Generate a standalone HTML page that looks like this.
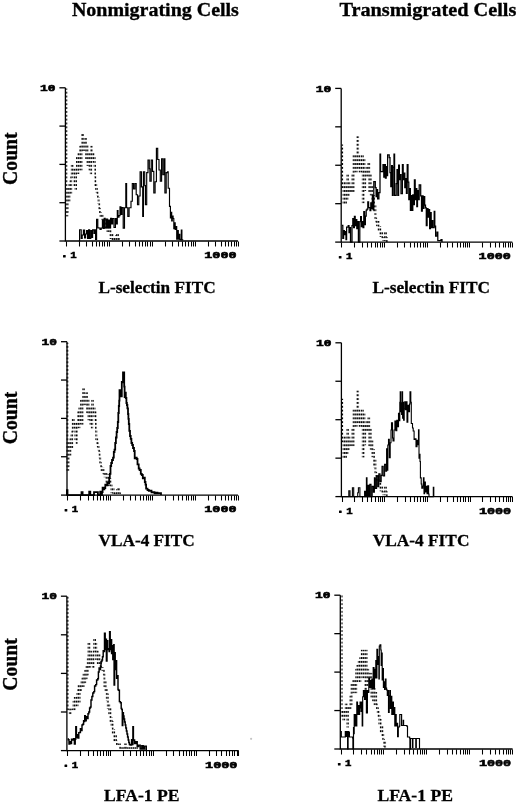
<!DOCTYPE html>
<html><head><meta charset="utf-8"><style>
html,body{margin:0;padding:0;background:#fff;width:520px;height:806px;overflow:hidden}
svg{display:block;will-change:transform}
.ax{fill:none;stroke:#000;stroke-width:1.3}
.tk{fill:none;stroke:#000;stroke-width:1.05}
.num{font-family:"Liberation Mono",monospace;font-weight:bold;font-size:9.2px;fill:#000;stroke:#000;stroke-width:0.55}
.ttl{font-family:"Liberation Serif",serif;font-weight:bold;font-size:19.7px;fill:#000;stroke:#000;stroke-width:0.35}
.lbl{font-family:"Liberation Serif",serif;font-weight:bold;font-size:17.6px;fill:#000;stroke:#000;stroke-width:0.3}
.cnt{font-family:"Liberation Serif",serif;font-weight:bold;font-size:20px;fill:#000;stroke:#000;stroke-width:0.35}
.sol{fill:none;stroke:#000;stroke-width:1.15;stroke-linejoin:miter}
.dot{fill:none;stroke-width:1.9}
</style></head><body>
<svg width="520" height="806" viewBox="0 0 520 806">

<circle cx="251.1" cy="738.8" r="1.1" fill="#c4c4c4"/>
<text x="71.9" y="16.4" class="ttl" textLength="167" lengthAdjust="spacingAndGlyphs">Nonmigrating Cells</text>
<text x="339.4" y="16.4" class="ttl" textLength="177" lengthAdjust="spacingAndGlyphs">Transmigrated Cells</text>
<text x="98.4" y="292.9" class="lbl" textLength="117.3" lengthAdjust="spacingAndGlyphs">L-selectin FITC</text>
<text x="372.4" y="292.9" class="lbl" textLength="117.6" lengthAdjust="spacingAndGlyphs">L-selectin FITC</text>
<text x="98.5" y="545.9" class="lbl" textLength="96.3" lengthAdjust="spacingAndGlyphs">VLA-4 FITC</text>
<text x="372.8" y="546.1" class="lbl" textLength="96.6" lengthAdjust="spacingAndGlyphs">VLA-4 FITC</text>
<text x="104" y="800.9" class="lbl" textLength="75.5" lengthAdjust="spacingAndGlyphs">LFA-1 PE</text>
<text x="377.4" y="800.9" class="lbl" textLength="75.5" lengthAdjust="spacingAndGlyphs">LFA-1 PE</text>
<text transform="translate(16.5 184.9) rotate(-90)" class="cnt" textLength="52.5" lengthAdjust="spacingAndGlyphs">Count</text>
<text transform="translate(16.5 444.3) rotate(-90)" class="cnt" textLength="52.6" lengthAdjust="spacingAndGlyphs">Count</text>
<text transform="translate(16.5 690.8) rotate(-90)" class="cnt" textLength="52.6" lengthAdjust="spacingAndGlyphs">Count</text>

<path d="M65.40 87.80V241.00H238.00" class="ax"/>
<path d="M59.40 87.80H65.40" class="ax"/>
<path d="M59.40 126.10H65.40" class="ax"/>
<path d="M59.40 164.40H65.40" class="ax"/>
<path d="M59.40 202.70H65.40" class="ax"/>
<path d="M59.40 241.00H65.40" class="ax"/>
<path d="M66.50 241.50v5M79.50 241.50v5M86.50 241.50v5M92.50 241.50v5M96.50 241.50v5M99.50 241.50v5M102.50 241.50v5M104.50 241.50v5M107.50 241.50v5M109.50 241.50v5M122.50 241.50v5M129.50 241.50v5M135.50 241.50v5M139.50 241.50v5M142.50 241.50v5M145.50 241.50v5M147.50 241.50v5M150.50 241.50v5M152.50 241.50v5M165.50 241.50v5M172.50 241.50v5M178.50 241.50v5M182.50 241.50v5M185.50 241.50v5M188.50 241.50v5M191.50 241.50v5M193.50 241.50v5M195.50 241.50v5M208.50 241.50v5M215.50 241.50v5M221.50 241.50v5M225.50 241.50v5M228.50 241.50v5M231.50 241.50v5M234.50 241.50v5M236.50 241.50v5M238.50 241.50v5" class="tk"/>
<text x="40.00" y="90.90" class="num" textLength="15.5" lengthAdjust="spacingAndGlyphs">10</text>
<rect x="63.00" y="254.90" width="2.7" height="2.5" rx="0.5"/>
<text x="70.20" y="258.10" class="num" textLength="6.4" lengthAdjust="spacingAndGlyphs">1</text>
<text x="204.30" y="258.00" class="num" textLength="32.3" lengthAdjust="spacingAndGlyphs">1000</text>
<pattern id="dp0" patternUnits="userSpaceOnUse" x="0" y="-0.70" width="1.9" height="3.85"><rect width="1.45" height="1.95" fill="#000"/></pattern>
<path d="M66.4,88.5H66.4V215.5H67.3V211.8H67.6V200.7H68.2V188.7H68.8V200.7H69.4V185.0H70.0V188.7H70.5V181.1H70.9V192.9H71.2V177.2H71.8V165.7H72.6V173.4H73.4V169.5H74.4V185.0H75.2V177.2H75.6V188.7H76.0V169.0H76.2V173.0H77.0V158.0H77.6V173.0H78.4V154.0H79.2V169.0H80.0V146.6H80.8V169.5H81.5V146.0H82.2V135.0H83.0V150.0H84.0V143.0H85.3V139.0H86.0V158.0H86.6V146.0H87.5V165.0H88.5V154.0H89.5V169.5H90.2V155.0H90.8V173.4H91.2V146.6H91.8V158.0H92.5V154.0H93.5V161.8H94.3V158.0H94.6V166.0H95.0V176.0H95.3V185.0H96.2V189.0H96.8V192.0H97.5V195.0H98.0V198.0H98.6V203.0H99.2V209.0H100.0V213.0H100.6V216.0H101.6V214.0H102.5V219.0H103.5V222.0H104.5V219.0H105.5V228.0H106.5V221.0H107.5V231.0H108.5V225.0H109.5V231.0H110.5V238.0H111.5V234.0H112.5V239.0H114.0V240.0H116.0V236.0H117.0V234.0H118.0V239.0H119.0V241.0" class="dot" stroke="url(#dp0)"/>
<path d="M78.8,241.0H79.6V229.7H81.2V238.5H82.2V235.0H83.4V230.0H84.6V238.0H85.6V234.0H86.6V230.5H87.6V238.5H88.6V229.8H89.6V238.5H90.8V230.5H91.6V237.5H92.6V229.8H94.0V233.5H95.0V229.8H95.6V239.5H96.6V219.2H97.8V227.8H98.8V228.0H100.0V229.5H101.2V228.0H102.4V220.1H103.2V228.5H104.2V218.2H105.2V227.8H106.6V219.0H107.6V227.8H108.6V220.1H109.6V227.8H110.6V218.2H111.6V223.9H112.6V218.5H114.0V227.5H115.4V218.5H116.4V223.9H117.3V210.5H118.0V217.2H119.0V215.6H120.0V206.9H120.9V214.4H121.9V207.6H123.2V228.1H124.5V207.7H125.8V183.5H126.6V207.7H127.8V216.4H129.1V207.7H131.0V201.2H132.3V183.5H133.6V189.0H134.9V183.5H136.2V194.7H137.5V204.7H138.8V196.0H140.1V171.7H141.4V186.9H142.7V216.4H143.4V171.7H144.7V185.6H145.4V204.7H146.7V172.6H148.0V160.0H149.3V168.7H149.9V181.2H151.2V160.0H152.5V171.3H153.8V193.0H155.1V181.7H156.4V148.3H157.7V159.5H159.0V170.0H160.3V181.2H161.6V158.7H162.9V174.7H164.2V158.7H164.9V193.0H166.2V172.6H167.5V171.7H168.2V188.2H169.5V206.4H170.4V218.0H171.0V212.2H171.7V220.9H172.3V216.0H173.1V218.5H173.8V228.6H174.5V222.8H175.2V229.5H176.0V226.6H176.7V239.2H177.5V230.5H178.3V239.2H179.0V234.3H179.8V239.3H180.6V239.6H181.3V230.0H181.9V239.8H182.7V240.1" class="sol" style="stroke-width:1.15"/>
<path d="M341.20 88.40V242.10H512.30" class="ax"/>
<path d="M335.20 88.40H341.20" class="ax"/>
<path d="M335.20 126.83H341.20" class="ax"/>
<path d="M335.20 165.25H341.20" class="ax"/>
<path d="M335.20 203.68H341.20" class="ax"/>
<path d="M335.20 242.10H341.20" class="ax"/>
<path d="M341.50 242.60v5M354.50 242.60v5M362.50 242.60v5M367.50 242.60v5M371.50 242.60v5M375.50 242.60v5M377.50 242.60v5M380.50 242.60v5M382.50 242.60v5M384.50 242.60v5M397.50 242.60v5M404.50 242.60v5M410.50 242.60v5M414.50 242.60v5M417.50 242.60v5M420.50 242.60v5M423.50 242.60v5M425.50 242.60v5M427.50 242.60v5M440.50 242.60v5M447.50 242.60v5M452.50 242.60v5M457.50 242.60v5M460.50 242.60v5M463.50 242.60v5M465.50 242.60v5M467.50 242.60v5M469.50 242.60v5M482.50 242.60v5M490.50 242.60v5M495.50 242.60v5M499.50 242.60v5M503.50 242.60v5M505.50 242.60v5M508.50 242.60v5M510.50 242.60v5M512.50 242.60v5" class="tk"/>
<text x="315.80" y="91.50" class="num" textLength="15.5" lengthAdjust="spacingAndGlyphs">10</text>
<rect x="338.80" y="256.00" width="2.7" height="2.5" rx="0.5"/>
<text x="346.00" y="259.20" class="num" textLength="6.4" lengthAdjust="spacingAndGlyphs">1</text>
<text x="478.60" y="259.10" class="num" textLength="32.3" lengthAdjust="spacingAndGlyphs">1000</text>
<pattern id="dp1" patternUnits="userSpaceOnUse" x="0" y="1.35" width="1.9" height="3.85"><rect width="1.45" height="1.95" fill="#000"/></pattern>
<path d="M342.2,144.4H342.2V187.0H342.9V187.0H343.6V203.0H344.4V183.0H345.2V203.0H346.0V187.0H346.8V199.0H347.4V175.3H348.0V195.0H348.6V183.0H349.4V191.0H350.0V187.0H350.8V191.0H351.6V187.0H352.4V175.0H353.1V191.0H353.6V156.0H354.3V171.5H355.1V156.0H355.9V171.5H356.6V160.0H357.4V137.2H358.1V167.7H358.8V156.0H359.6V171.5H360.4V159.8H361.2V171.5H362.0V156.0H362.8V202.3H363.6V160.0H364.4V190.0H365.2V171.5H366.0V175.7H366.8V167.7H367.6V175.7H368.4V164.0H369.2V191.0H370.0V175.0H370.8V194.6H371.6V187.0H372.4V202.0H373.2V196.0H374.0V212.0H374.8V206.0H375.4V218.7H376.2V221.5H377.0V225.4H377.8V222.0H378.6V230.2H379.4V227.0H380.3V236.0H381.2V232.6H382.2V237.9H383.5V240.0H385.0V233.0H386.0V238.0H386.8V242.1" class="dot" stroke="url(#dp1)"/>
<path d="M342.0,225.4H342.8V238.3H343.6V230.5H344.4V234.5H345.2V231.5H346.0V239.5H346.6V227.0H348.2V225.5H349.0V232.5H349.8V227.5H350.5V242.1H352.0V225.5H352.8V218.5H353.6V227.5H354.4V216.3H355.2V225.5H356.0V219.5H356.8V228.5H357.6V221.5H358.4V242.1H359.8V221.5H360.6V216.5H361.4V226.5H362.2V221.5H363.0V227.5H363.8V211.5H364.6V224.5H365.4V216.0H366.2V210.0H367.0V209.0H367.8V201.8H368.6V207.5H370.0V210.5H370.8V202.8H371.6V208.5H372.4V195.5H373.1V209.5H373.8V181.5H375.3V187.5H376.1V196.5H376.9V189.5H377.6V198.9H378.9V192.5H380.0V154.0H380.6V171.5H382.2V171.5H383.0V164.5H383.8V177.0H384.6V164.5H385.4V178.0H386.2V166.5H387.0V175.5H387.6V154.9H389.2V157.5H390.0V172.7H390.8V186.5H391.6V165.5H392.4V195.3H393.2V167.0H394.0V154.0H394.6V195.3H396.2V183.5H397.0V169.5H397.8V195.3H398.6V165.0H399.4V179.5H400.2V174.5H401.0V193.5H402.4V164.5H403.2V179.5H404.0V173.2H404.8V187.5H405.6V178.5H406.4V193.3H407.2V164.5H408.0V182.0H408.8V199.5H409.6V188.5H410.4V210.3H411.2V195.5H412.0V210.3H412.8V194.9H413.6V204.5H414.4V179.9H415.2V199.5H416.0V188.5H416.8V206.5H417.5V190.5H418.6V199.5H419.2V184.8H420.7V195.9H421.5V211.2H422.3V195.9H423.1V208.3H423.9V196.5H424.7V205.0H425.5V207.9H426.3V225.5H427.1V208.5H428.0V217.0H428.8V209.5H429.6V228.5H430.4V212.5H431.2V227.5H432.0V220.5H432.8V227.5H434.2V211.3H434.8V226.0H435.6V236.2H437.0V232.0H437.8V240.5H440.0V240.5H441.0V239.5H442.0V242.1" class="sol" style="stroke-width:1.25"/>
<path d="M67.00 341.70V495.10H238.00" class="ax"/>
<path d="M61.00 341.70H67.00" class="ax"/>
<path d="M61.00 380.05H67.00" class="ax"/>
<path d="M61.00 418.40H67.00" class="ax"/>
<path d="M61.00 456.75H67.00" class="ax"/>
<path d="M61.00 495.10H67.00" class="ax"/>
<path d="M67.50 495.60v5M80.50 495.60v5M88.50 495.60v5M93.50 495.60v5M97.50 495.60v5M100.50 495.60v5M103.50 495.60v5M106.50 495.60v5M108.50 495.60v5M110.50 495.60v5M123.50 495.60v5M130.50 495.60v5M135.50 495.60v5M140.50 495.60v5M143.50 495.60v5M146.50 495.60v5M148.50 495.60v5M150.50 495.60v5M152.50 495.60v5M165.50 495.60v5M173.50 495.60v5M178.50 495.60v5M182.50 495.60v5M186.50 495.60v5M188.50 495.60v5M191.50 495.60v5M193.50 495.60v5M195.50 495.60v5M208.50 495.60v5M215.50 495.60v5M221.50 495.60v5M225.50 495.60v5M228.50 495.60v5M231.50 495.60v5M234.50 495.60v5M236.50 495.60v5M238.50 495.60v5" class="tk"/>
<text x="41.60" y="344.80" class="num" textLength="15.5" lengthAdjust="spacingAndGlyphs">10</text>
<rect x="64.60" y="509.00" width="2.7" height="2.5" rx="0.5"/>
<text x="71.80" y="512.20" class="num" textLength="6.4" lengthAdjust="spacingAndGlyphs">1</text>
<text x="204.30" y="512.10" class="num" textLength="32.3" lengthAdjust="spacingAndGlyphs">1000</text>
<pattern id="dp2" patternUnits="userSpaceOnUse" x="0" y="-0.60" width="1.9" height="3.85"><rect width="1.45" height="1.95" fill="#000"/></pattern>
<path d="M67.4,342.7H67.4V469.7H68.3V466.0H68.6V454.9H69.2V442.9H69.8V454.9H70.4V439.2H71.0V442.9H71.5V435.3H71.9V447.1H72.2V431.4H72.8V419.9H73.6V427.6H74.4V423.7H75.4V439.2H76.2V431.4H76.6V442.9H77.0V423.2H77.2V427.2H78.0V412.2H78.6V427.2H79.4V408.2H80.2V423.2H81.0V400.8H81.8V423.7H82.5V400.2H83.2V389.2H84.0V404.2H85.0V397.2H86.3V393.2H87.0V412.2H87.6V400.2H88.5V419.2H89.5V408.2H90.5V423.7H91.2V409.2H91.8V427.6H92.2V400.8H92.8V412.2H93.5V408.2H94.5V416.0H95.3V412.2H95.6V420.2H96.0V430.2H96.3V439.2H97.2V443.2H97.8V446.2H98.5V449.2H99.0V452.2H99.6V457.2H100.2V463.2H101.0V467.2H101.6V470.2H102.6V468.2H103.5V473.2H104.5V476.2H105.5V473.2H106.5V482.2H107.5V475.2H108.5V485.2H109.5V479.2H110.5V485.2H111.5V492.2H112.5V488.2H113.5V493.2H115.0V494.2H117.0V490.2H118.0V488.2H119.0V493.2H120.0V495.1" class="dot" stroke="url(#dp2)"/>
<path d="M66.7,495.1H66.9V490.2H67.5V495.1H81.3V495.1H81.5V492.2H82.6V495.1H89.0V495.1H89.2V491.7H90.3V495.1H93.8V495.1H94.0V492.1H97.7V492.1H97.9V495.1H100.0V495.1H100.2V491.7H101.5V495.1H102.0V492.0H102.6V487.7H103.5V489.3H104.4V488.0H105.3V484.7H106.5V485.3H107.3V482.7H108.3V483.3H109.2V478.0H109.8V473.8H110.5V466.0H111.2V463.0H112.0V460.0H113.0V457.7H113.8V452.0H114.5V449.6H115.2V443.0H115.9V437.5H116.6V432.0H117.2V428.0H117.8V422.0H118.3V413.0H118.8V406.0H119.2V400.6H119.5V390.2H120.7V390.2H121.0V396.3H121.8V382.0H122.6V382.3H123.0V372.4H123.8V372.4H124.2V386.6H124.6V397.0H125.2V392.7H125.8V398.0H126.4V403.0H126.9V405.0H127.4V408.3H128.0V414.0H128.4V418.8H128.8V424.0H129.3V430.8H130.0V436.0H130.7V438.8H131.4V443.0H132.2V445.0H133.0V448.0H134.0V451.0H134.7V458.3H135.8V457.7H136.7V459.0H137.5V464.4H138.7V468.5H139.6V470.0H140.8V473.8H141.8V475.0H142.8V478.3H143.8V477.7H144.8V482.0H145.5V484.6H146.1V488.6H147.5V490.0H148.8V490.8H150.2V490.7H151.5V492.3H153.0V492.2H154.5V493.3H156.0V492.7H157.5V493.3H159.0V493.2H161.0V495.1" class="sol" style="stroke-width:1.8"/>
<path d="M341.40 342.80V496.60H512.60" class="ax"/>
<path d="M335.40 342.80H341.40" class="ax"/>
<path d="M335.40 381.25H341.40" class="ax"/>
<path d="M335.40 419.70H341.40" class="ax"/>
<path d="M335.40 458.15H341.40" class="ax"/>
<path d="M335.40 496.60H341.40" class="ax"/>
<path d="M342.50 497.10v5M354.50 497.10v5M362.50 497.10v5M367.50 497.10v5M371.50 497.10v5M375.50 497.10v5M378.50 497.10v5M380.50 497.10v5M382.50 497.10v5M384.50 497.10v5M397.50 497.10v5M405.50 497.10v5M410.50 497.10v5M414.50 497.10v5M417.50 497.10v5M420.50 497.10v5M423.50 497.10v5M425.50 497.10v5M427.50 497.10v5M440.50 497.10v5M447.50 497.10v5M453.50 497.10v5M457.50 497.10v5M460.50 497.10v5M463.50 497.10v5M465.50 497.10v5M468.50 497.10v5M470.50 497.10v5M482.50 497.10v5M490.50 497.10v5M495.50 497.10v5M499.50 497.10v5M503.50 497.10v5M506.50 497.10v5M508.50 497.10v5M510.50 497.10v5M512.50 497.10v5" class="tk"/>
<text x="316.00" y="345.90" class="num" textLength="15.5" lengthAdjust="spacingAndGlyphs">10</text>
<rect x="339.00" y="510.50" width="2.7" height="2.5" rx="0.5"/>
<text x="346.20" y="513.70" class="num" textLength="6.4" lengthAdjust="spacingAndGlyphs">1</text>
<text x="478.90" y="513.60" class="num" textLength="32.3" lengthAdjust="spacingAndGlyphs">1000</text>
<pattern id="dp3" patternUnits="userSpaceOnUse" x="0" y="1.55" width="1.9" height="3.85"><rect width="1.45" height="1.95" fill="#000"/></pattern>
<path d="M342.2,398.7H342.2V441.3H342.9V441.3H343.6V457.3H344.4V437.3H345.2V457.3H346.0V441.3H346.8V453.3H347.4V429.6H348.0V449.3H348.6V437.3H349.4V445.3H350.0V441.3H350.8V445.3H351.6V441.3H352.4V429.3H353.1V445.3H353.6V410.3H354.3V425.8H355.1V410.3H355.9V425.8H356.6V414.3H357.4V391.5H358.1V422.0H358.8V410.3H359.6V425.8H360.4V414.1H361.2V425.8H362.0V410.3H362.8V456.6H363.6V414.3H364.4V444.3H365.2V425.8H366.0V430.0H366.8V422.0H367.6V430.0H368.4V418.3H369.2V445.3H370.0V429.3H370.8V448.9H371.6V441.3H372.4V456.3H373.2V450.3H374.0V466.3H374.8V460.3H375.4V473.0H376.2V475.8H377.0V479.7H377.8V476.3H378.6V484.5H379.4V481.3H380.3V490.3H381.2V486.9H382.2V492.2H383.5V494.3H385.0V487.3H386.0V492.3H386.8V496.6" class="dot" stroke="url(#dp3)"/>
<path d="M341.5,496.6H348.6V496.6H348.8V490.7H349.8V490.7H350.0V496.6H352.2V496.6H352.4V487.8H353.5V487.8H353.7V496.6H357.5V496.6H357.7V492.7H358.4V487.8H359.5V487.8H359.9V496.6H364.2V496.6H364.6V491.4H365.4V496.6H366.4V477.7H367.0V496.6H368.0V485.4H368.8V496.6H369.8V484.4H371.0V496.6H372.2V486.4H373.4V492.3H374.4V477.7H375.4V488.4H376.6V475.8H377.8V486.6H378.8V473.9H380.0V481.6H381.2V475.4H382.0V466.2H383.2V475.9H384.6V464.2H385.8V471.1H386.6V448.9H387.2V470.2H387.8V445.0H388.5V439.2H389.3V457.6H390.2V442.7H391.0V430.0H391.5V422.9H392.5V438.0H393.0V440.9H394.0V430.0H394.9V421.0H395.9V430.6H396.8V420.4H397.8V426.6H398.5V413.3H399.2V420.6H399.8V402.3H400.2V391.7H400.7V411.6H401.2V402.7H401.6V414.4H402.1V391.7H402.6V418.2H403.2V402.4H403.6V420.2H404.2V409.0H404.8V401.7H405.6V409.6H406.4V401.7H407.0V422.1H407.8V405.4H408.8V411.6H409.5V404.0H410.0V391.7H410.8V402.3H411.3V423.5H412.5V428.0H413.2V431.0H414.1V439.4H415.0V438.9H416.0V446.6H417.0V440.4H418.0V444.6H418.5V429.7H419.0V458.3H419.6V454.2H420.0V461.5H420.4V477.9H421.2V484.0H421.8V488.1H422.8V486.0H423.4V477.8H424.0V493.8H424.6V482.1H425.4V491.9H426.2V486.4H427.0V493.6H427.8V485.9H428.6V494.0H429.0V496.6H432.9V496.6H433.3V487.4H433.8V496.6" class="sol" style="stroke-width:1.1"/>
<path d="M66.90 596.20V750.60H238.80" class="ax"/>
<path d="M60.90 596.20H66.90" class="ax"/>
<path d="M60.90 634.80H66.90" class="ax"/>
<path d="M60.90 673.40H66.90" class="ax"/>
<path d="M60.90 712.00H66.90" class="ax"/>
<path d="M60.90 750.60H66.90" class="ax"/>
<path d="M67.50 751.10v5M80.50 751.10v5M88.50 751.10v5M93.50 751.10v5M97.50 751.10v5M100.50 751.10v5M103.50 751.10v5M106.50 751.10v5M108.50 751.10v5M110.50 751.10v5M123.50 751.10v5M130.50 751.10v5M136.50 751.10v5M140.50 751.10v5M143.50 751.10v5M146.50 751.10v5M149.50 751.10v5M151.50 751.10v5M153.50 751.10v5M166.50 751.10v5M173.50 751.10v5M179.50 751.10v5M183.50 751.10v5M186.50 751.10v5M189.50 751.10v5M191.50 751.10v5M194.50 751.10v5M196.50 751.10v5M209.50 751.10v5M216.50 751.10v5M221.50 751.10v5M226.50 751.10v5M229.50 751.10v5M232.50 751.10v5M234.50 751.10v5M237.50 751.10v5M238.50 751.10v5" class="tk"/>
<text x="41.50" y="599.30" class="num" textLength="15.5" lengthAdjust="spacingAndGlyphs">10</text>
<rect x="64.50" y="764.50" width="2.7" height="2.5" rx="0.5"/>
<text x="71.70" y="767.70" class="num" textLength="6.4" lengthAdjust="spacingAndGlyphs">1</text>
<text x="205.10" y="767.60" class="num" textLength="32.3" lengthAdjust="spacingAndGlyphs">1000</text>
<pattern id="dp4" patternUnits="userSpaceOnUse" x="0" y="-0.05" width="1.9" height="3.85"><rect width="1.45" height="1.95" fill="#000"/></pattern>
<path d="M67.6,596.5H67.6V709.4H69.5V709.4H69.8V713.3H70.5V709.4H73.2V709.4H73.6V701.7H74.2V709.4H74.8V697.9H75.6V705.6H76.4V697.9H77.2V705.6H77.5V694.0H78.0V690.2H78.6V685.8H79.2V701.7H79.6V685.8H80.5V690.2H81.0V685.8H81.6V682.0H82.4V678.4H83.0V686.0H83.6V674.5H84.5V682.2H85.2V670.7H86.0V678.4H86.6V666.8H87.3V674.5H87.8V659.1H88.5V643.8H89.4V666.8H90.2V651.4H91.0V659.1H91.6V663.0H92.2V655.3H93.0V666.8H93.6V651.4H94.3V639.9H95.0V651.4H95.6V643.8H96.2V659.1H96.8V651.4H97.2V651.4H97.8V663.0H98.4V655.0H99.5V663.0H101.0V668.0H102.5V670.0H103.9V674.5H104.4V686.0H105.0V682.0H105.6V691.6H106.3V688.7H106.8V700.0H107.3V694.5H107.8V708.0H108.6V704.0H109.2V714.7H109.8V709.0H110.5V722.0H111.0V718.5H111.6V726.2H112.2V722.0H112.8V734.0H113.5V730.0H114.2V740.7H115.0V736.0H116.0V741.6H117.0V744.5H119.0V744.5H120.0V748.3H125.0V744.5H126.0V748.3H136.7V748.3H137.0V750.6" class="dot" stroke="url(#dp4)"/>
<path d="M67.6,739.0H68.3V739.7H69.0V743.9H69.8V741.6H70.7V743.4H71.5V739.3H72.5V739.9H73.6V738.6H74.4V743.9H75.2V739.0H75.8V726.8H76.4V737.4H77.2V734.6H78.0V738.1H78.8V732.6H79.6V732.4H80.4V728.6H81.2V730.4H82.0V725.0H82.8V724.3H83.6V720.6H84.2V721.4H84.7V715.8H85.4V720.8H86.2V716.6H87.0V718.4H88.0V713.7H88.8V712.0H89.6V708.0H90.4V707.0H91.0V700.0H91.9V696.4H92.8V693.0H93.8V691.6H94.6V686.0H95.7V684.6H96.6V680.0H97.7V678.8H98.4V672.0H99.1V667.9H100.0V669.4H100.5V666.0H101.0V661.5H101.9V660.0H102.5V656.7H103.2V650.6H104.0V651.4H104.5V633.3H105.2V649.4H105.8V639.1H106.4V660.9H107.0V640.6H107.7V649.4H108.4V648.6H109.1V651.4H109.6V631.8H110.2V649.4H110.8V639.6H111.6V653.4H112.2V645.6H112.8V659.4H113.2V650.0H113.8V644.8H114.1V685.0H114.6V652.6H115.2V669.4H115.9V660.6H116.6V678.2H117.3V675.6H118.0V689.4H118.5V690.3H119.4V701.6H120.4V702.8H121.2V708.4H121.8V709.6H122.3V725.6H122.8V712.6H123.4V716.0H124.0V719.0H124.6V722.0H125.2V725.0H125.8V728.0H126.4V731.0H127.0V734.0H127.6V737.0H128.2V740.0H128.8V742.5H129.4V744.5H130.2V744.9H131.0V744.9H131.6V739.6H132.4V744.4H132.9V726.8H133.4V740.0H134.6V743.4H136.0V741.6H137.2V746.4H138.6V745.1H140.2V748.9H141.8V745.6H143.2V748.9H144.6V746.1H146.3V750.6" class="sol" style="stroke-width:1.45"/>
<path d="M340.30 595.20V749.00H512.60" class="ax"/>
<path d="M334.30 595.20H340.30" class="ax"/>
<path d="M334.30 633.65H340.30" class="ax"/>
<path d="M334.30 672.10H340.30" class="ax"/>
<path d="M334.30 710.55H340.30" class="ax"/>
<path d="M334.30 749.00H340.30" class="ax"/>
<path d="M341.50 749.50v5M353.50 749.50v5M361.50 749.50v5M366.50 749.50v5M371.50 749.50v5M374.50 749.50v5M377.50 749.50v5M379.50 749.50v5M381.50 749.50v5M383.50 749.50v5M396.50 749.50v5M404.50 749.50v5M409.50 749.50v5M413.50 749.50v5M417.50 749.50v5M420.50 749.50v5M422.50 749.50v5M424.50 749.50v5M426.50 749.50v5M439.50 749.50v5M447.50 749.50v5M452.50 749.50v5M456.50 749.50v5M460.50 749.50v5M463.50 749.50v5M465.50 749.50v5M467.50 749.50v5M469.50 749.50v5M482.50 749.50v5M490.50 749.50v5M495.50 749.50v5M499.50 749.50v5M503.50 749.50v5M506.50 749.50v5M508.50 749.50v5M510.50 749.50v5M512.50 749.50v5" class="tk"/>
<text x="314.90" y="598.30" class="num" textLength="15.5" lengthAdjust="spacingAndGlyphs">10</text>
<rect x="337.90" y="762.90" width="2.7" height="2.5" rx="0.5"/>
<text x="345.10" y="766.10" class="num" textLength="6.4" lengthAdjust="spacingAndGlyphs">1</text>
<text x="478.90" y="766.00" class="num" textLength="32.3" lengthAdjust="spacingAndGlyphs">1000</text>
<pattern id="dp5" patternUnits="userSpaceOnUse" x="0" y="2.55" width="1.9" height="3.85"><rect width="1.45" height="1.95" fill="#000"/></pattern>
<path d="M341.6,595.0H341.6V716.0H342.5V712.0H343.4V719.5H344.3V712.0H345.0V716.0H345.8V704.5H346.6V709.0H347.4V726.5H348.0V708.0H349.2V709.0H349.8V708.0H350.4V696.4H351.0V704.2H351.6V685.0H352.5V692.4H353.3V681.0H354.3V692.4H355.2V685.0H355.8V692.4H356.2V669.8H356.6V681.3H357.3V666.0H358.0V677.5H358.8V662.0H359.6V681.3H360.3V658.3H361.0V673.7H361.8V650.6H362.6V677.5H363.4V650.6H364.0V669.8H364.8V662.0H365.4V689.0H366.0V650.6H366.6V685.2H367.4V669.8H368.2V681.3H369.0V673.7H369.8V681.3H370.7V673.7H371.4V696.7H372.2V685.2H373.0V700.6H373.8V689.0H374.6V704.4H375.4V692.9H376.2V704.4H377.0V708.3H377.8V712.0H378.6V716.0H379.4V723.7H380.2V720.0H380.8V732.3H381.6V726.5H382.4V735.0H383.2V740.0H384.0V745.8H384.6V742.0H385.1V749.0" class="dot" stroke="url(#dp5)"/>
<path d="M340.6,731.5H341.3V737.0H345.0V737.0H345.3V731.5H346.0V736.5H346.8V731.5H347.6V749.0H348.1V731.5H348.5V736.5H348.8V732.0H349.4V737.0H352.6V738.0H352.9V749.0H353.5V727.5H354.0V733.7H354.2V714.5H354.8V726.0H355.6V714.5H356.4V726.0H356.8V702.0H357.5V714.5H358.2V705.5H359.0V714.5H359.6V708.0H360.1V702.0H361.0V711.5H361.6V702.0H362.2V726.0H362.7V696.7H363.4V690.5H364.6V699.5H365.6V690.5H366.4V713.0H367.4V690.5H368.4V692.5H368.8V678.0H369.6V687.5H370.4V680.5H371.2V687.5H371.8V679.0H372.6V688.5H373.2V667.5H374.0V688.5H374.5V669.3H375.2V678.0H375.8V660.5H376.5V678.0H376.9V649.2H377.6V664.5H378.4V656.5H378.9V678.9H379.3V646.0H380.0V644.8H380.8V650.0H381.2V665.5H381.8V653.0H382.2V679.9H382.8V668.5H383.4V687.5H384.0V681.8H384.6V689.5H385.3V679.0H386.0V688.0H386.6V690.0H387.3V695.3H387.8V690.5H388.5V712.5H389.2V695.8H389.8V690.5H390.4V708.5H391.0V696.3H391.8V714.5H392.6V702.0H393.4V714.5H394.0V707.5H394.8V726.0H395.5V714.5H396.2V726.0H396.8V723.2H397.6V736.6H398.3V727.0H399.3V726.0H399.8V714.5H401.2V714.5H401.6V725.5H403.2V720.3H403.6V725.5H407.0V726.5H407.5V737.0H409.6V738.0H409.9V749.0H410.4V738.5H412.2V738.5H412.4V747.5H412.9V738.5H415.5V738.5H415.8V747.5H416.3V738.5H419.2V738.5H419.5V749.0" class="sol" style="stroke-width:1.15"/>
</svg>
</body></html>
